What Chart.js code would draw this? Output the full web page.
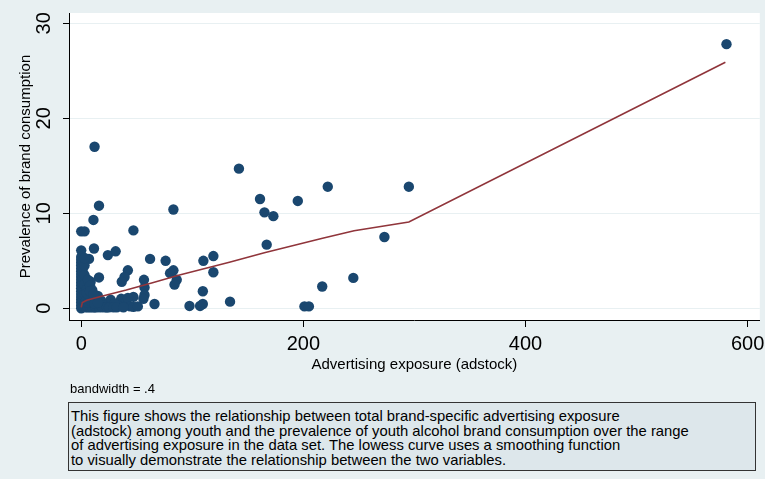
<!DOCTYPE html>
<html>
<head>
<meta charset="utf-8">
<script src="https://cdn.jsdelivr.net/npm/chart.js@4/dist/chart.umd.min.js"></script>
<style>
body { margin: 0; background: #e8f0f2; }
#wrap { position: relative; width: 765px; height: 479px; }
#myChart { position: absolute; left: 0; top: 0; }
#bw { position: absolute; left: 70px; top: 381px; font: 13px "Liberation Sans", Arial, sans-serif; color: #000; }
#nota { position: absolute; left: 68px; top: 402px; width: 684px; height: 59px; padding: 6px 0 2px 2px; border: 1px solid #333; background: #dde7eb;
        font: 14.8px "Liberation Sans", Arial, sans-serif; line-height: 14.6px; color: #000; white-space: nowrap; }
</style>
</head>
<body>
<div id="wrap">
<canvas id="myChart" width="765" height="479"></canvas>
<div id="bw">bandwidth = .4</div>
<div id="nota">This figure shows the relationship between total brand-specific advertising exposure<br>(adstock) among youth and the prevalence of youth alcohol brand consumption over the range<br>of advertising exposure in the data set. The lowess curve uses a smoothing function<br>to visually demonstrate the relationship between the two variables.</div>
</div>
<script>
// exposicao (adstock) e prevalencia de cada marca
const adstock = [581, 12, 142, 16, 83, 11, 0, 3, 47, 161, 165, 173, 195, 222, 295, 167, 273, 245, 217, 201, 205,
    0, 11.5, 24, 31, 7, 62, 76, 83, 80, 86, 84, 110, 119, 119, 42, 39, 36.5, 16, 56.5, 57, 57, 56, 47, 66,
    97.5, 107, 109.5, 109.5, 134, 8.5, 26.5, 27, 36, 40, 42, 44, 47, 51, 36, 33, 30,
    0, 0, 0, 0, 0, 0, 0, 0, 0, 0, 0, 0, 0, 0, 0, 0, 0, 0, 0,
    1.5, 1.5, 1.5, 1.5, 1.5, 1.5, 1.5, 1.5, 1.5,
    3, 3, 3, 3, 3, 3,
    5, 5, 5, 6, 7, 7, 8, 9, 9, 10, 11, 12, 12, 14, 15, 17, 18, 20, 22,
    4, 6, 8, 10, 13, 16, 19, 23, 25, 29, 32, 38, 4, 6, 9, 12, 15, 5, 8, 11];
const prevalencia = [27.8, 17.0, 14.7, 10.8, 10.4, 9.3, 8.1, 8.1, 8.2, 11.5, 10.1, 9.7, 11.3, 12.8, 12.8, 6.7, 7.5, 3.2, 2.3, 0.2, 0.2,
    6.1, 6.3, 5.6, 6.0, 5.2, 5.2, 5.0, 4.0, 3.7, 3.0, 2.5, 5.0, 5.5, 3.8, 4.0, 3.3, 2.8, 3.25, 3.0, 2.2, 1.4, 1.0, 1.2, 0.45,
    0.25, 0.25, 0.45, 1.8, 0.7, 2.8, 0.9, 0.15, 1.0, 0.6, 1.1, 0.2, 0.15, 0.2, 0.2, 0.3, 0.5,
    0, 0.3, 0.6, 0.9, 1.2, 1.5, 1.8, 2.1, 2.4, 2.7, 3.0, 3.3, 3.6, 3.9, 4.2, 4.5, 4.8, 5.1, 5.4,
    0.2, 0.8, 1.4, 2.0, 2.6, 3.2, 3.8, 4.4, 5.0,
    0.5, 1.5, 2.5, 3.5, 4.5, 5.3,
    0.2, 1.0, 2.0, 3.0, 0.5, 1.5, 2.4, 0.2, 1.2, 1.9, 0.6, 0.1, 1.0, 0.4, 1.3, 0.2, 0.8, 0.3, 0.1,
    0.1, 0.1, 0.1, 0.1, 0.1, 0.1, 0.1, 0.1, 0.1, 0.1, 0.1, 0.1, 0.7, 0.6, 0.7, 0.5, 0.6, 1.6, 1.8, 1.5];

// curva lowess
const lowessX = [0, 1, 5, 16.6, 40.6, 64.2, 88.5, 133.4, 164.9, 217.3, 245.7, 295, 580];
const lowessY = [0.1, 0.6, 0.85, 1.22, 1.93, 2.7, 3.5, 4.84, 5.85, 7.37, 8.17, 9.08, 25.9];

const ticksX = [0, 200, 400, 600];
const ticksY = [0, 10, 20, 30];

const fonte = "'Liberation Sans', Arial, sans-serif";

function pontos(xs, ys) {
    let lista = [];
    for (let i = 0; i < xs.length; i++) {
        lista.push({x: xs[i], y: ys[i]});
    }
    return lista;
}

const fundoPlot = {
    id: 'fundoPlot',
    beforeDraw(chart) {
        const a = chart.chartArea;
        const ctx = chart.ctx;
        ctx.save();
        ctx.fillStyle = '#ffffff';
        ctx.fillRect(a.left, a.top, a.right - a.left, a.bottom - a.top);
        ctx.restore();
    }
};

const ctx = document.getElementById('myChart');
const myChart = new Chart(ctx, {
    type: 'scatter',
    data: {
        datasets: [{
            type: 'line',
            data: pontos(lowessX, lowessY),
            borderColor: '#90353b',
            borderWidth: 1.6,
            pointRadius: 0,
            fill: false,
            tension: 0
        }, {
            data: pontos(adstock, prevalencia),
            backgroundColor: '#1a476f',
            borderColor: '#1a476f',
            borderWidth: 0,
            pointRadius: 5.2
        }]
    },
    options: {
        responsive: false,
        animation: false,
        devicePixelRatio: 1,
        layout: { padding: {top: 13, right: 3, bottom: 99, left: 0} },
        plugins: { legend: { display: false }, tooltip: { enabled: false } },
        scales: {
            x: {
                type: 'linear',
                min: -11,
                max: 611,
                afterBuildTicks: (s) => { s.ticks = ticksX.map(v => ({value: v})); },
                afterFit: (s) => { s.height = 60; s.paddingLeft = 0; s.paddingRight = 0; },
                grid: { drawOnChartArea: false, drawTicks: true, tickLength: 7, tickColor: '#000' },
                border: { color: '#000', width: 1 },
                ticks: { color: '#000', font: {family: fonte, size: 20}, padding: 5, maxRotation: 0 },
                title: { display: true, text: 'Advertising exposure (adstock)', color: '#000',
                    font: {family: fonte, size: 15}, padding: {top: 0, bottom: 6} }
            },
            y: {
                type: 'linear',
                min: -1.23,
                max: 31.08,
                afterBuildTicks: (s) => { s.ticks = ticksY.map(v => ({value: v})); },
                afterFit: (s) => { s.width = 69; s.paddingTop = 0; s.paddingBottom = 0; },
                grid: { color: '#e8f0f2', lineWidth: 1, drawTicks: true, tickLength: 6, tickColor: '#000' },
                border: { color: '#000', width: 1 },
                ticks: { color: '#000', font: {family: fonte, size: 20}, padding: 7, minRotation: 90, maxRotation: 90, crossAlign: 'center' },
                title: { display: true, text: 'Prevalence of brand consumption', color: '#000',
                    font: {family: fonte, size: 15}, padding: {top: 17, bottom: 0} }
            }
        }
    },
    plugins: [fundoPlot]
});
</script>
</body>
</html>
